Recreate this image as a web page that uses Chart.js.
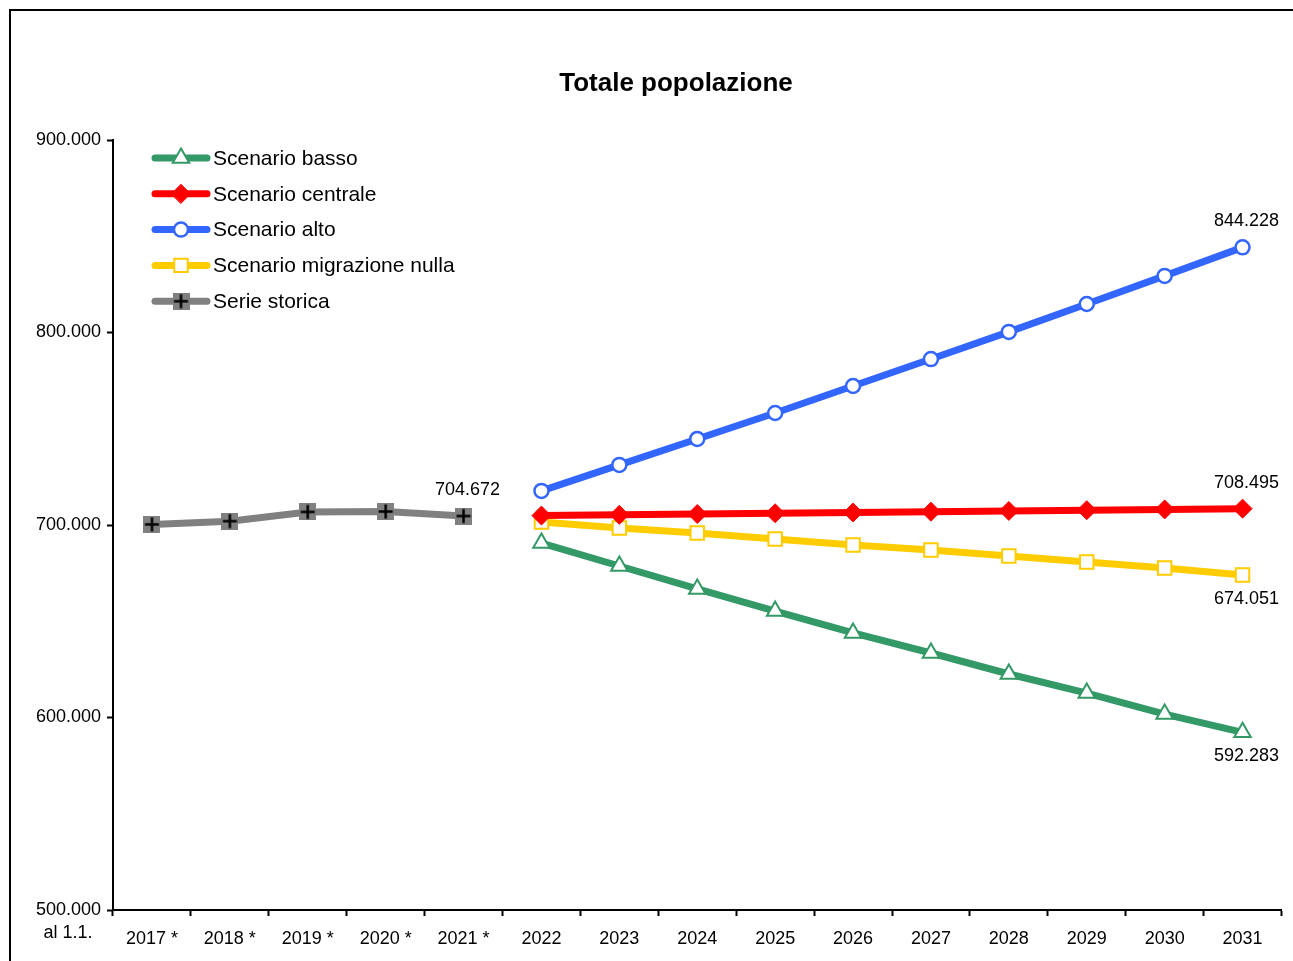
<!DOCTYPE html>
<html>
<head>
<meta charset="utf-8">
<script src="https://cdn.jsdelivr.net/npm/chart.js@4/dist/chart.umd.min.js"></script>
<style>
  body { margin: 0; background: #fff; overflow: hidden; }
  #frame { position: absolute; left: 9px; top: 9px; width: 1400px; height: 1100px; border: 2px solid #000; }
  #wrap { position: absolute; left: 0; top: 0; width: 1293px; height: 961px; }
</style>
</head>
<body>
<div id="frame"></div>
<div id="wrap"><canvas id="myChart"></canvas></div>
<script>
// Data

const years = ["2017 *", "2018 *", "2019 *", "2020 *", "2021 *",
  "2022", "2023", "2024", "2025", "2026", "2027", "2028", "2029", "2030", "2031"];

const scenarioBasso = [null, null, null, null, null,
  690600, 678700, 666800, 655300, 643900, 633500, 622600, 612700, 601800, 592283];
const scenarioCentrale = [null, null, null, null, null,
  704900, 705300, 705700, 706100, 706500, 706900, 707300, 707700, 708100, 708495];
const scenarioAlto = [null, null, null, null, null,
  717700, 731200, 744700, 758200, 772200, 786200, 800300, 814800, 829400, 844228];
const scenarioNulla = [null, null, null, null, null,
  701600, 698400, 695800, 692700, 689600, 687000, 683900, 680800, 677700, 674051];
const serieStorica = [700300, 702000, 706800, 707000, 704672,
  null, null, null, null, null, null, null, null, null, null];

const yTicks = [500000, 600000, 700000, 800000, 900000];

// Labels shown next to points: [datasetIndex, pointIndex, position]
const valueLabels = [
  [4, 4, "above"],
  [2, 14, "above"],
  [1, 14, "above"],
  [3, 14, "below"],
  [0, 14, "below"],
];

const FONT = "'Liberation Sans', Arial, sans-serif";

function fmt(v) {
  return String(Math.round(v)).replace(/\B(?=(\d{3})+(?!\d))/g, ".");
}

// Point style for the historical series: gray square with black cross

function makeCrossIcon() {
  let c = document.createElement("canvas");
  c.width = 17;
  c.height = 17;
  let g = c.getContext("2d");
  g.fillStyle = "#808080";
  g.fillRect(0, 0, 17, 17);
  g.strokeStyle = "#000";
  g.lineWidth = 2.5;
  g.beginPath();
  g.moveTo(8.5, 1.5); g.lineTo(8.5, 15.5);
  g.moveTo(1.5, 8.5); g.lineTo(15.5, 8.5);
  g.stroke();
  return c;
}
const crossIcon = makeCrossIcon();

const green = "#339966";
const red = "#ff0000";
const blue = "#3366ff";
const yellow = "#ffcc00";
const gray = "#808080";

const datasets = [
  { label: "Scenario basso", data: scenarioBasso, borderColor: green, backgroundColor: "#fff",
    pointStyle: "triangle", pointRadius: 9.5, pointBorderWidth: 2 },
  { label: "Scenario centrale", data: scenarioCentrale, borderColor: red, backgroundColor: red,
    pointStyle: "rectRot", pointRadius: 9.5, pointBorderWidth: 1 },
  { label: "Scenario alto", data: scenarioAlto, borderColor: blue, backgroundColor: "#fff",
    pointStyle: "circle", pointRadius: 7, pointBorderWidth: 2.5 },
  { label: "Scenario migrazione nulla", data: scenarioNulla, borderColor: yellow, backgroundColor: "#fff",
    pointStyle: "rect", pointRadius: 9.5, pointBorderWidth: 2 },
  { label: "Serie storica", data: serieStorica, borderColor: gray, backgroundColor: gray,
    pointStyle: crossIcon, pointRadius: 9, pointBorderWidth: 0 },
];
datasets.forEach(d => {
  d.borderWidth = 7;
  d.pointBackgroundColor = d.backgroundColor;
  d.pointBorderColor = d.borderColor;
  d.tension = 0;
  d.spanGaps = false;
});

// Custom drawing: title, legend, value labels, "al 1.1."

const decorations = {
  id: "decorations",
  afterDraw(chart) {
    const ctx = chart.ctx;
    const yScale = chart.scales.y;
    ctx.save();
    ctx.fillStyle = "#000";
    ctx.font = "bold 26px " + FONT;
    ctx.textAlign = "center";
    ctx.textBaseline = "middle";
    ctx.fillText("Totale popolazione", 676, 84);

    // legend
    ctx.font = "21px " + FONT;
    ctx.textAlign = "left";
    chart.data.datasets.forEach((ds, i) => {
      const y = 158 + i * 35.8;
      ctx.strokeStyle = ds.borderColor;
      ctx.lineWidth = 7;
      ctx.lineCap = "round";
      ctx.beginPath();
      ctx.moveTo(155, y);
      ctx.lineTo(207, y);
      ctx.stroke();
      if (ds.pointStyle instanceof HTMLCanvasElement) {
        ctx.drawImage(ds.pointStyle, 181 - 8.5, y - 8.5);
      } else {
        ctx.fillStyle = ds.pointBackgroundColor;
        ctx.strokeStyle = ds.pointBorderColor;
        ctx.lineWidth = ds.pointBorderWidth;
        Chart.helpers.drawPoint(ctx, {
          pointStyle: ds.pointStyle, radius: ds.pointRadius, rotation: 0,
          borderWidth: ds.pointBorderWidth
        }, 181, y);
      }
      ctx.fillStyle = "#000";
      ctx.fillText(ds.label, 213, y + 1);
    });

    // value labels
    ctx.font = "18px " + FONT;
    ctx.textAlign = "center";
    valueLabels.forEach(([di, pi, pos]) => {
      const pt = chart.getDatasetMeta(di).data[pi];
      const v = chart.data.datasets[di].data[pi];
      const dy = pos === "above" ? -26 : 24;
      ctx.fillText(fmt(v), pt.x + 4, pt.y + dy);
    });

    // axis note
    ctx.fillText("al 1.1.", 68, yScale.bottom + 23);
    ctx.restore();
  }
};

const ctx1 = document.getElementById("myChart").getContext("2d");
const chart1 = new Chart(ctx1, {
  type: "line",
  data: { labels: years, datasets: datasets },
  options: {
    responsive: true,
    maintainAspectRatio: false,
    animation: false,
    layout: { padding: { top: 140, right: 11, left: 0, bottom: 0 } },
    plugins: {
      legend: { display: false },
      title: { display: false },
      tooltip: { enabled: false },
    },
    scales: {
      x: {
        offset: true,
        grid: { offset: true, drawOnChartArea: false, tickLength: 6, color: "#000", tickWidth: 2 },
        border: { color: "#000", width: 2 },
        ticks: { color: "#000", font: { size: 18, family: FONT },
          padding: 12, maxRotation: 0, autoSkip: false },
        afterFit(scale) { scale.height = 51; },
      },
      y: {
        min: 500000,
        max: 900000,
        afterBuildTicks(scale) { scale.ticks = yTicks.map(v => ({ value: v })); },
        grid: { drawOnChartArea: false, tickLength: 6, color: "#000", tickWidth: 2 },
        border: { color: "#000", width: 2 },
        ticks: { color: "#000", font: { size: 18, family: FONT },
          padding: 6, callback: v => fmt(v) },
        afterFit(scale) { scale.width = 113; },
      },
    },
  },
  plugins: [decorations],
});
</script>
</body>
</html>
